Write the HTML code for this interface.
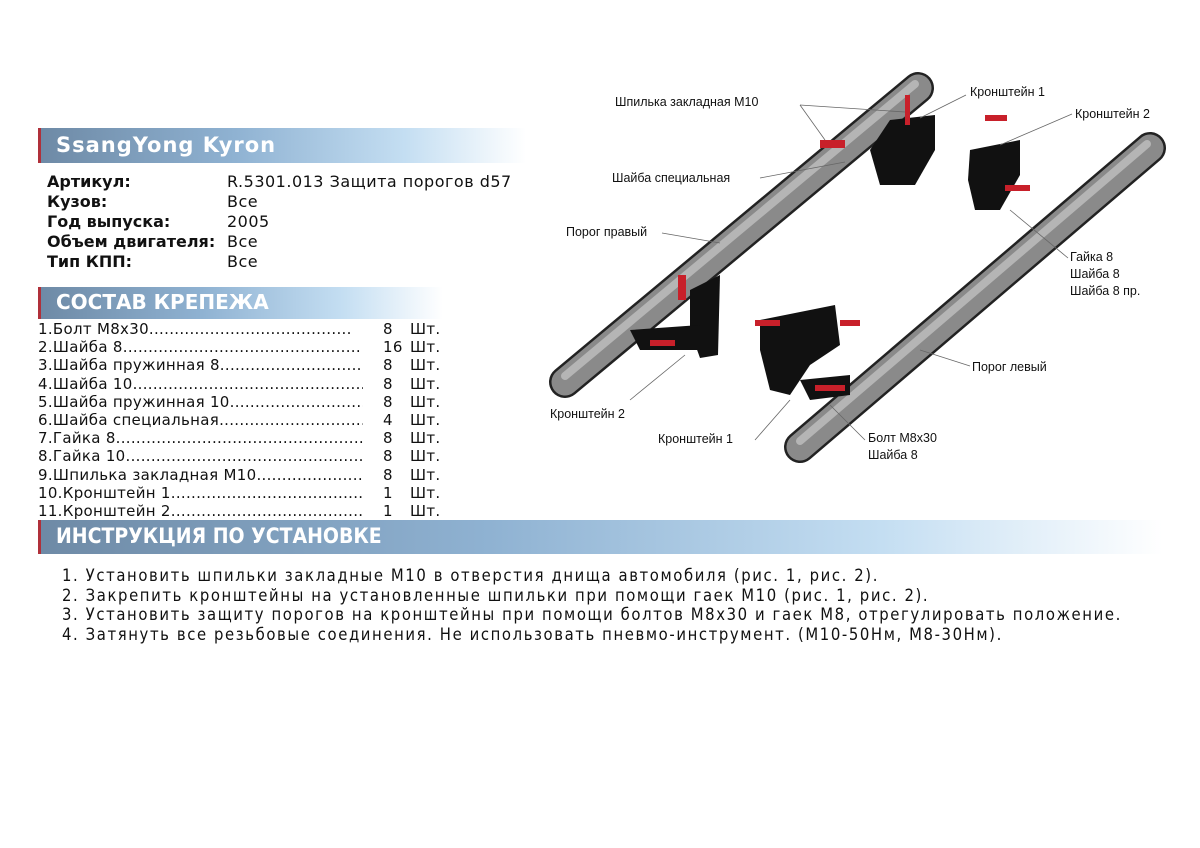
<!DOCTYPE html>
<html><head><meta charset="utf-8"><style>
body{margin:0;width:1200px;height:848px;background:#fff;position:relative;overflow:hidden;font-family:"DejaVu Sans","Liberation Sans",sans-serif;color:#111}
.h{position:absolute;left:38px;border-left:3px solid #b0303a;background:linear-gradient(90deg,#6e8aa6 0%,#8fb2d2 40%,#c4def2 75%,#fff 100%);color:#fff;font-weight:bold;box-sizing:border-box}
.t{position:absolute;font-size:16px;white-space:pre;line-height:20px}
.b{font-weight:bold}
.lst{position:absolute;top:320px;font-size:15px;line-height:18.2px;white-space:pre;letter-spacing:0.3px;overflow:hidden}
.ins{position:absolute;left:62px;top:566px;font-family:"Liberation Sans Narrow","DejaVu Sans Condensed",sans-serif;font-size:16.5px;line-height:19.5px;white-space:pre;letter-spacing:1.6px}
.lb{position:absolute;font-family:"Liberation Sans",sans-serif;font-size:12.5px;white-space:pre;line-height:17px}
</style></head><body>
<div class="h" style="top:128px;width:488px;height:35px;font-size:21px;padding:5px 0 0 15px;letter-spacing:1px">SsangYong Kyron</div>
<div class="t b" style="left:47px;top:172px">Артикул:
Кузов:
Год выпуска:
Объем двигателя:
Тип КПП:</div>
<div class="t" style="left:227px;top:172px;letter-spacing:0.5px">R.5301.013 Защита порогов d57
Все
2005
Все
Все</div>
<div class="h" style="top:287px;width:405px;height:32px;font-size:20px;padding:3px 0 0 15px">СОСТАВ КРЕПЕЖА</div>
<div class="lst" style="left:38px;width:325px">1.Болт М8х30........................................
2.Шайба 8...............................................
3.Шайба пружинная 8..............................
4.Шайба 10..............................................
5.Шайба пружинная 10............................
6.Шайба специальная..............................
7.Гайка 8.................................................
8.Гайка 10...............................................
9.Шпилька закладная М10.......................
10.Кронштейн 1........................................
11.Кронштейн 2........................................</div>
<div class="lst" style="left:383px">8
16
8
8
8
4
8
8
8
1
1</div>
<div class="lst" style="left:410px">Шт.
Шт.
Шт.
Шт.
Шт.
Шт.
Шт.
Шт.
Шт.
Шт.
Шт.</div>
<div class="h" style="top:520px;width:1125px;height:34px;font-size:21px;padding:4px 0 0 15px;font-family:'DejaVu Sans Condensed',sans-serif">ИНСТРУКЦИЯ ПО УСТАНОВКЕ</div>
<div class="ins">1. Установить шпильки закладные М10 в отверстия днища автомобиля (рис. 1, рис. 2).
2. Закрепить кронштейны на установленные шпильки при помощи гаек М10 (рис. 1, рис. 2).
3. Установить защиту порогов на кронштейны при помощи болтов М8х30 и гаек М8, отрегулировать положение.
4. Затянуть все резьбовые соединения. Не использовать пневмо-инструмент. (М10-50Нм, М8-30Нм).</div>
<svg style="position:absolute;left:0;top:0" width="1200" height="848">
<g stroke-linecap="round">
<line x1="565" y1="382" x2="918" y2="88" stroke="#222" stroke-width="32"/>
<line x1="565" y1="382" x2="918" y2="88" stroke="#8a8a8a" stroke-width="27"/>
<line x1="565" y1="376" x2="915" y2="84" stroke="#b5b5b5" stroke-width="8"/>
<line x1="800" y1="447" x2="1150" y2="148" stroke="#222" stroke-width="32"/>
<line x1="800" y1="447" x2="1150" y2="148" stroke="#8a8a8a" stroke-width="27"/>
<line x1="800" y1="441" x2="1147" y2="144" stroke="#b5b5b5" stroke-width="8"/>
</g>
<g fill="#111">
<polygon points="890,120 935,115 935,150 915,185 880,185 870,150"/>
<polygon points="970,150 1020,140 1020,175 1000,210 975,210 968,180"/>
<polygon points="690,290 720,275 718,355 700,358 690,330"/>
<polygon points="630,330 700,325 700,350 640,350"/>
<polygon points="760,320 835,305 840,345 810,365 790,395 770,390 760,350"/>
<polygon points="800,380 850,375 850,395 810,400"/>
</g>
<g fill="#c8202a">
<rect x="905" y="95" width="5" height="30"/><rect x="820" y="140" width="25" height="8"/>
<rect x="985" y="115" width="22" height="6"/><rect x="1005" y="185" width="25" height="6"/>
<rect x="678" y="275" width="8" height="25"/><rect x="650" y="340" width="25" height="6"/>
<rect x="755" y="320" width="25" height="6"/><rect x="840" y="320" width="20" height="6"/>
<rect x="815" y="385" width="30" height="6"/>
</g>
<g stroke="#666" stroke-width="0.8" fill="none">
<polyline points="800,105 825,140"/><polyline points="800,105 905,112"/>
<polyline points="760,178 845,162"/><polyline points="662,233 720,243"/>
<polyline points="966,95 920,118"/><polyline points="1072,114 1000,145"/>
<polyline points="1068,258 1010,210"/><polyline points="970,366 920,350"/>
<polyline points="630,400 685,355"/><polyline points="755,440 790,400"/>
<polyline points="865,440 830,405"/>
</g>
</svg>
<div class="lb" style="left:615px;top:94px">Шпилька закладная М10</div>
<div class="lb" style="left:970px;top:84px">Кронштейн 1</div>
<div class="lb" style="left:1075px;top:106px">Кронштейн 2</div>
<div class="lb" style="left:612px;top:170px">Шайба специальная</div>
<div class="lb" style="left:566px;top:224px">Порог правый</div>
<div class="lb" style="left:1070px;top:249px">Гайка 8
Шайба 8
Шайба 8 пр.</div>
<div class="lb" style="left:972px;top:359px">Порог левый</div>
<div class="lb" style="left:550px;top:406px">Кронштейн 2</div>
<div class="lb" style="left:658px;top:431px">Кронштейн 1</div>
<div class="lb" style="left:868px;top:430px">Болт М8х30
Шайба 8</div>
</body></html>
